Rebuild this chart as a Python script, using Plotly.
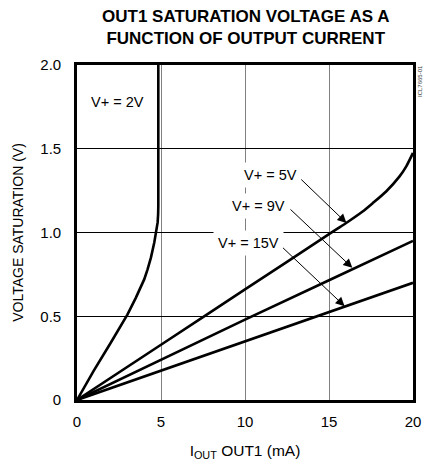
import plotly.graph_objects as go

# Data
i_2v = [0, 1, 2, 3, 3.5, 4, 4.2, 4.4, 4.6, 4.72, 4.8, 4.83, 4.84, 4.84]
v_2v = [0, 0.175, 0.34, 0.51, 0.61, 0.72, 0.78, 0.85, 0.94, 1.0, 1.06, 1.11, 1.16, 2.0]

i_5v = [0, 5, 10, 15, 16, 17, 17.6, 18.4, 19.2, 19.6, 20]
v_5v = [0, 0.33, 0.66, 0.99, 1.055, 1.125, 1.175, 1.245, 1.335, 1.395, 1.475]

i_9v = [0, 5, 10, 15, 20]
v_9v = [0, 0.24, 0.48, 0.715, 0.95]

i_15v = [0, 5, 10, 15, 20]
v_15v = [0, 0.175, 0.35, 0.525, 0.70]

x_ticks = [0, 5, 10, 15, 20]
y_ticks = [0, 0.5, 1.0, 1.5, 2.0]
y_tick_labels = ["0", "0.5", "1.0", "1.5", "2.0"]

FONT = "Liberation Sans, Arial, sans-serif"

fig = go.Figure()
curves = [(i_2v, v_2v, "linear"), (i_5v, v_5v, "spline"),
          (i_9v, v_9v, "linear"), (i_15v, v_15v, "linear")]
for xs, ys, shape in curves:
    fig.add_trace(go.Scatter(x=xs, y=ys, mode="lines",
                             line=dict(color="black", width=2.6, shape=shape,
                                       smoothing=0.6 if shape == "spline" else None),
                             showlegend=False, hoverinfo="skip"))

labels = [
    ("V+ = 2V", 2.44, 1.78),
    ("V+ = 5V", 11.52, 1.345),
    ("V+ = 9V", 10.83, 1.156),
    ("V+ = 15V", 10.18, 0.938),
]
for txt, x, y in labels:
    fig.add_annotation(x=x, y=y, text=txt, showarrow=False,
                       font=dict(family=FONT, size=14.5, color="black"),
                       bgcolor="white", borderpad=4)

arrows = [
    (16.04, 1.057, 13.26, 1.325),
    (16.39, 0.789, 12.62, 1.146),
    (15.93, 0.560, 12.17, 0.917),
]
for hx, hy, tx, ty in arrows:
    fig.add_annotation(x=hx, y=hy, ax=tx, ay=ty, axref="x", ayref="y",
                       text="", showarrow=True, arrowhead=2, arrowsize=1.8,
                       arrowwidth=1, arrowcolor="black", standoff=0,
                       startstandoff=0)

# Title as a paper-anchored annotation
fig.add_annotation(x=0.5, y=1.0, xref="paper", yref="paper", xanchor="center",
                   yanchor="middle", yshift=38, showarrow=False,
                   text="<b>OUT1 SATURATION VOLTAGE AS A<br>FUNCTION OF OUTPUT CURRENT</b>",
                   font=dict(family=FONT, size=17, color="black"))

fig.add_annotation(x=1.0, y=1.0, xref="paper", yref="paper", xanchor="left",
                   yanchor="top", xshift=2, yshift=2, text="ICL7665-01", textangle=-90,
                   showarrow=False, font=dict(family=FONT, size=6, color="#333"))

fig.update_layout(
    width=424, height=464,
    margin=dict(l=77, r=11, t=65, b=64),
    paper_bgcolor="white", plot_bgcolor="white",
    font=dict(family=FONT, size=14, color="black"),
)
fig.update_xaxes(range=[0, 20], tickvals=x_ticks, showgrid=True, automargin=False,
                 gridcolor="#808080", gridwidth=1.2, zeroline=False,
                 showline=True, linecolor="black", linewidth=2.6, mirror=True,
                 ticks="", tickfont=dict(size=15), ticklabelstandoff=6,
                 title=dict(text="I<sub>OUT</sub> OUT1 (mA)", font=dict(size=15.5), standoff=17))
fig.update_yaxes(range=[0, 2], tickvals=y_ticks, ticktext=y_tick_labels, showgrid=True,
                 automargin=False,
                 gridcolor="black", gridwidth=1, zeroline=False,
                 showline=True, linecolor="black", linewidth=2.6, mirror=True,
                 ticks="", tickfont=dict(size=15), ticklabelstandoff=10,
                 title=dict(text="VOLTAGE SATURATION (V)", font=dict(size=14), standoff=14))

fig.write_html("out.html", config={"displayModeBar": False},
               post_script="document.body.style.margin='0';")
